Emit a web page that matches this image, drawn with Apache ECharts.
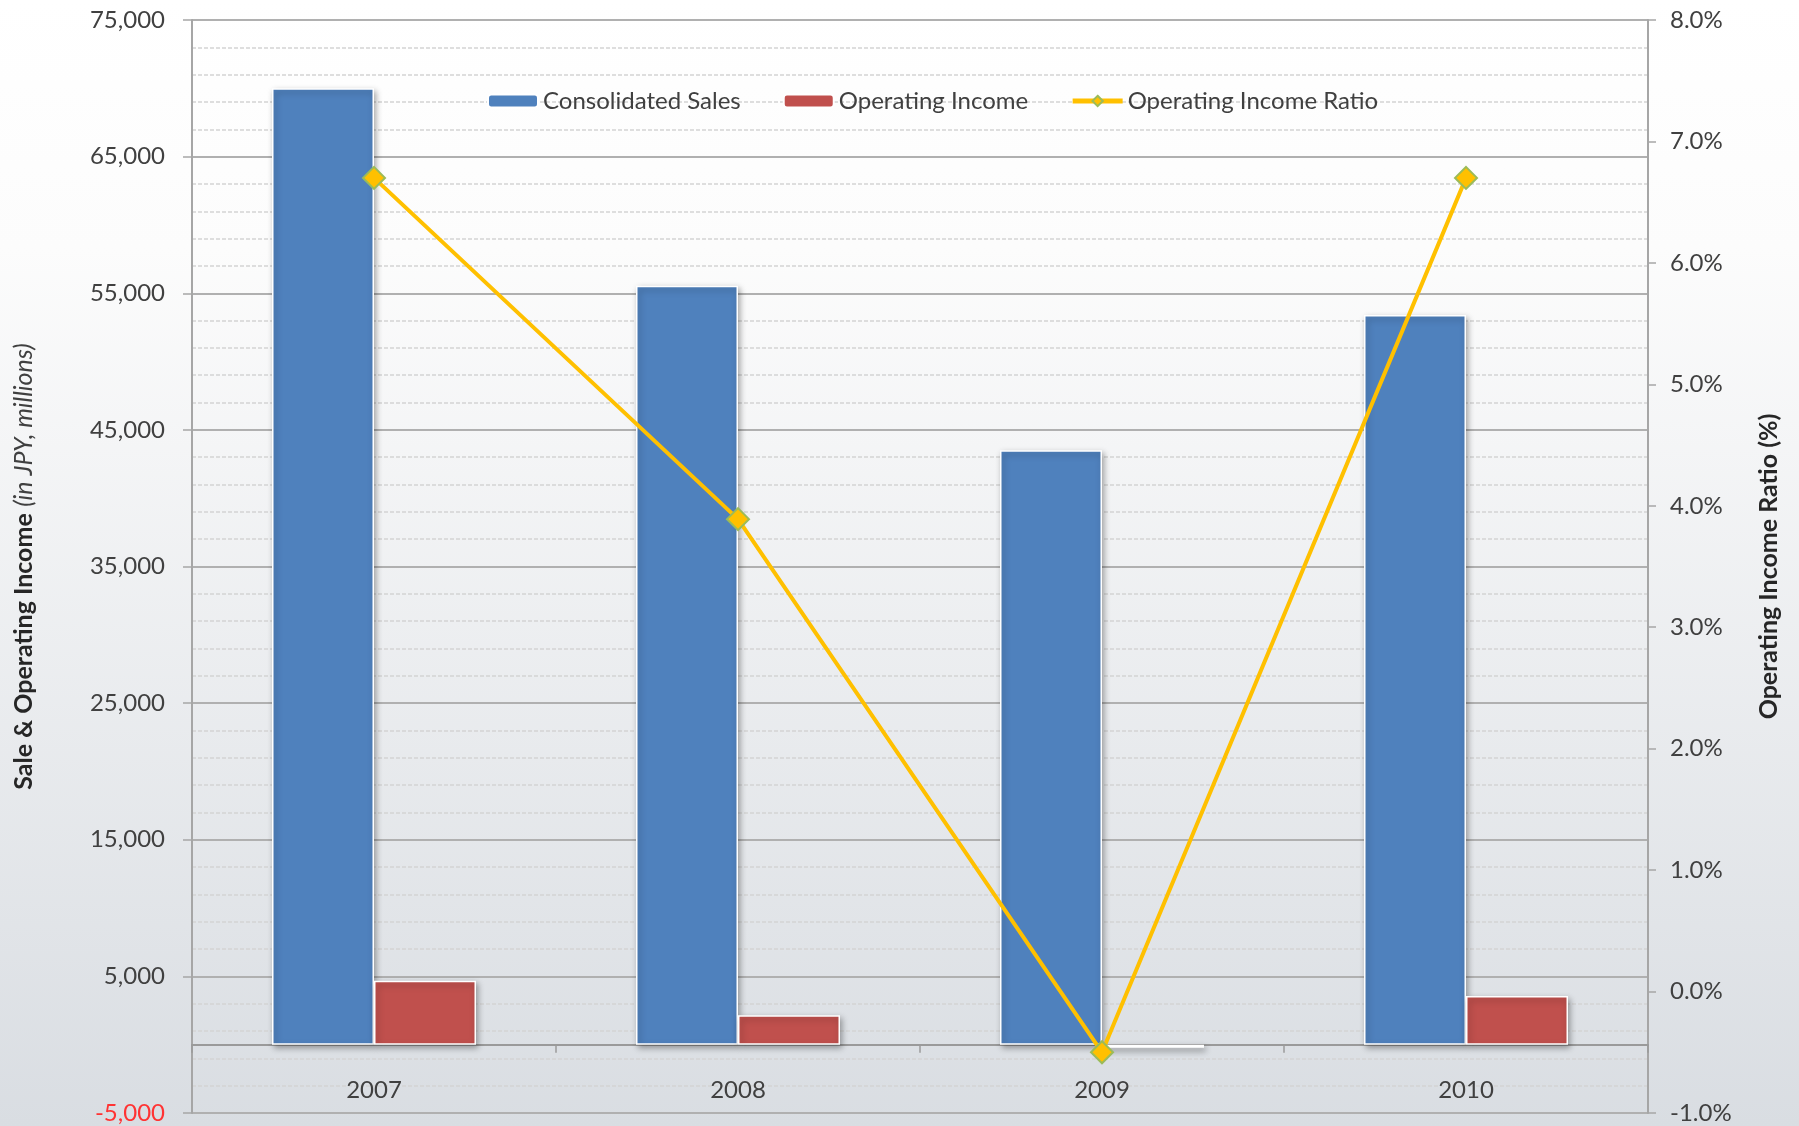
<!DOCTYPE html>
<html>
<head>
<meta charset="utf-8">
<script src="https://cdn.jsdelivr.net/npm/echarts@6/dist/echarts.min.js"></script>
<style>
html,body{margin:0;padding:0;}
#chart{width:1799px;height:1126px;}
</style>
</head>
<body>
<div id="chart"></div>
<script>
const categories = ['2007', '2008', '2009', '2010'];
const consolidatedSales = [70000, 55550, 43500, 53400];
const operatingIncome = [4680, 2150, -220, 3560];
const operatingIncomeRatio = [6.70, 3.89, -0.50, 6.70];
const seriesNames = ['Consolidated Sales', 'Operating Income', 'Operating Income Ratio'];
const leftAxisTitle = ['Sale & Operating Income', '(in JPY, millions)'];
const rightAxisTitle = 'Operating Income Ratio (%)';

const FONT = 'Lato, "Open Sans", sans-serif';
const chart = echarts.init(document.getElementById('chart'));

const option = {
  backgroundColor: {
    type: 'linear', x: 0, y: 0, x2: 0, y2: 1,
    colorStops: [
      { offset: 0, color: '#ffffff' },
      { offset: 0.22, color: '#fcfcfc' },
      { offset: 1, color: '#d9dde2' }
    ]
  },
  animation: false,
  textStyle: { fontFamily: FONT },
  grid: { left: 192, right: 151, top: 20, bottom: 13, containLabel: false, outerBoundsMode: 'none' },
  legend: {
    top: 84,
    left: 482,
    itemWidth: 50,
    itemHeight: 13,
    itemGap: 42,
    textStyle: { fontFamily: FONT, fontSize: 24, color: '#404040' },
    data: [
      seriesNames[0],
      seriesNames[1],
      { name: seriesNames[2], lineStyle: { width: 5, color: '#ffc000' } }
    ]
  },
  xAxis: {
    type: 'category',
    data: categories,
    axisLine: { onZero: true, lineStyle: { color: '#9a9a9a', width: 2 } },
    axisTick: { show: true, length: 8, lineStyle: { color: '#9a9a9a', width: 1.5 } },
    axisLabel: { margin: -35, fontSize: 24, color: '#404040', fontFamily: FONT },
    splitLine: { show: false }
  },
  yAxis: [
    {
      type: 'value',
      min: -5000,
      max: 75000,
      interval: 10000,
      position: 'left',
      name: '{b|' + leftAxisTitle[0] + '} {i|' + leftAxisTitle[1] + '}',
      nameLocation: 'middle',
      nameRotate: 90,
      nameGap: 156,
      nameTextStyle: {
        fontFamily: FONT,
        fontSize: 25,
        color: '#262626',
        rich: {
          b: { fontFamily: FONT, fontSize: 25, fontWeight: 'bold', color: '#262626' },
          i: { fontFamily: FONT, fontSize: 25, fontStyle: 'italic', color: '#404040' }
        }
      },
      axisLine: { show: true, lineStyle: { color: '#a6a6a6', width: 2 } },
      axisTick: { show: true, length: 9, lineStyle: { color: '#a6a6a6', width: 1.5 } },
      axisLabel: {
        margin: 27,
        fontSize: 24,
        color: '#404040',
        fontFamily: FONT,
        formatter: function (v) {
          const s = Math.abs(v).toLocaleString('en-US');
          return v < 0 ? '{neg|-' + s + '}' : s;
        },
        rich: { neg: { color: '#ff3333', fontSize: 24, fontFamily: FONT } }
      },
      splitLine: { show: true, lineStyle: { color: '#b0b0b0', width: 2 } },
      minorTick: { show: false, splitNumber: 5 },
      minorSplitLine: { show: true, lineStyle: { color: '#d4d4d4', width: 1.5, type: [4, 2] } }
    },
    {
      type: 'value',
      min: -1,
      max: 8,
      interval: 1,
      position: 'right',
      name: rightAxisTitle,
      nameLocation: 'middle',
      nameRotate: 90,
      nameGap: 108,
      nameTextStyle: { fontFamily: FONT, fontSize: 25, fontWeight: 'bold', color: '#262626' },
      axisLine: { show: true, lineStyle: { color: '#a6a6a6', width: 2 } },
      axisTick: { show: true, length: 8, lineStyle: { color: '#a6a6a6', width: 1.5 } },
      axisLabel: {
        margin: 22,
        fontSize: 24,
        color: '#404040',
        fontFamily: FONT,
        formatter: function (v) { return v.toFixed(1) + '%'; }
      },
      splitLine: { show: false }
    }
  ],
  series: [
    {
      name: seriesNames[0],
      type: 'bar',
      data: consolidatedSales,
      barWidth: 102,
      barGap: '0%',
      itemStyle: {
        color: '#4f81bd',
        borderColor: '#ffffff',
        borderWidth: 1.5,
        shadowBlur: 6,
        shadowOffsetX: 2,
        shadowOffsetY: 3,
        shadowColor: 'rgba(0,0,0,0.35)'
      },
      z: 2
    },
    {
      name: seriesNames[1],
      type: 'bar',
      data: operatingIncome,
      barWidth: 102,
      barGap: '0%',
      itemStyle: {
        color: '#c0504d',
        borderColor: '#ffffff',
        borderWidth: 1.5,
        shadowBlur: 6,
        shadowOffsetX: 2,
        shadowOffsetY: 3,
        shadowColor: 'rgba(0,0,0,0.35)'
      },
      z: 2
    },
    {
      name: seriesNames[2],
      type: 'line',
      yAxisIndex: 1,
      data: operatingIncomeRatio,
      symbol: 'diamond',
      symbolSize: 22,
      lineStyle: { color: '#ffc000', width: 4 },
      itemStyle: { color: '#ffc000', borderColor: '#9bbb59', borderWidth: 2 },
      z: 5
    }
  ]
};

chart.setOption(option);
</script>
</body>
</html>
